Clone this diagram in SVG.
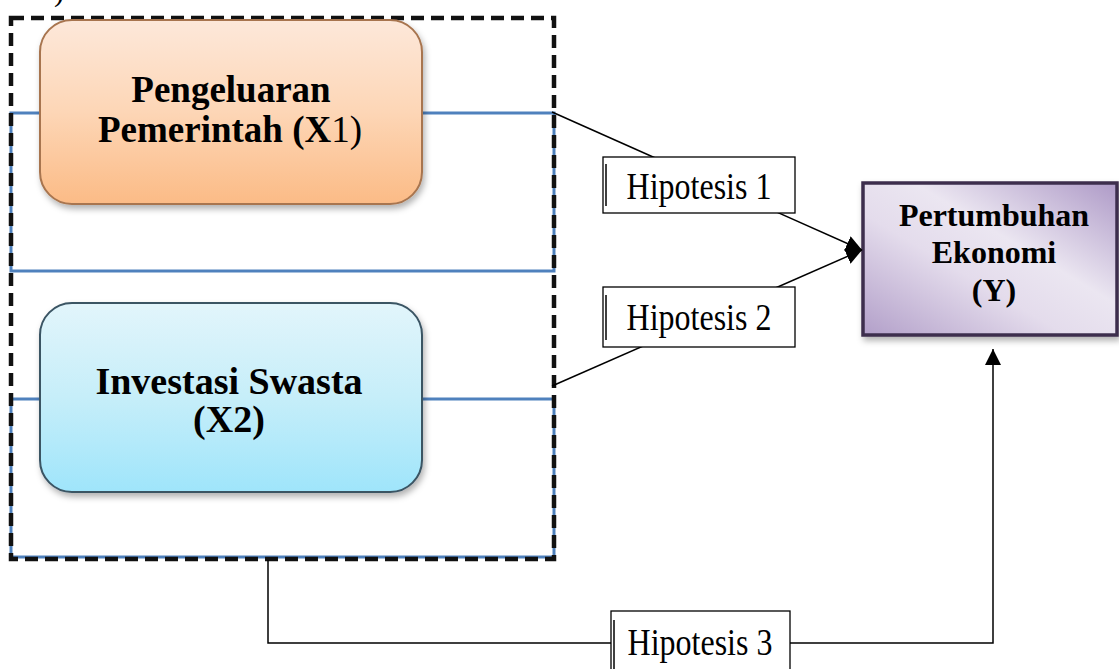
<svg xmlns="http://www.w3.org/2000/svg" width="1119" height="669" viewBox="0 0 1119 669">
<defs>
<linearGradient id="gOrange" x1="0" y1="0" x2="0" y2="1">
<stop offset="0" stop-color="#fde8da"/>
<stop offset="0.5" stop-color="#fdd6b6"/>
<stop offset="1" stop-color="#fbbb86"/>
</linearGradient>
<linearGradient id="gCyan" x1="0" y1="0" x2="0" y2="1">
<stop offset="0" stop-color="#e2f5fb"/>
<stop offset="0.5" stop-color="#c6eef9"/>
<stop offset="1" stop-color="#9fe5fb"/>
</linearGradient>
<linearGradient id="gPurple" x1="0" y1="1" x2="1" y2="0">
<stop offset="0" stop-color="#b29fc9"/>
<stop offset="0.4" stop-color="#e4dcec"/>
<stop offset="0.6" stop-color="#ebe6f1"/>
<stop offset="1" stop-color="#ae9ac7"/>
</linearGradient>
<filter id="shadow" x="-10%" y="-10%" width="125%" height="130%">
<feDropShadow dx="2" dy="4" stdDeviation="3" flood-color="#000" flood-opacity="0.3"/>
</filter>
<marker id="arrowBig" viewBox="0 0 10 10" refX="10" refY="5" markerWidth="16" markerHeight="16" markerUnits="userSpaceOnUse" orient="auto">
<path d="M0,0 L10,5 L0,10 z" fill="#000"/>
</marker>
</defs>
<style>
.bold{font-family:"Liberation Serif","Times New Roman",serif;font-weight:bold;fill:#000;}
.reg{font-family:"Liberation Serif","Times New Roman",serif;font-weight:normal;fill:#000;}
.hbox{fill:#fff;stroke:#000;stroke-width:1.3;}
.blue{fill:none;stroke:#4f81bd;stroke-width:3;}
.conn{fill:none;stroke:#000;stroke-width:1.5;}
.dash{fill:none;stroke:#111;stroke-width:4.5;stroke-dasharray:13 7;}
</style>

<text class="reg" x="54" y="1" font-size="30">)</text>

<g id="group-box">
<rect class="blue" x="11" y="113" width="543" height="158"/>
<rect class="blue" x="11" y="399" width="543" height="158"/>
<rect class="dash" x="11" y="18" width="543" height="541"/>
</g>

<g id="node-x1">
<rect x="40" y="20" width="382" height="184" rx="32" fill="url(#gOrange)" stroke="#a8754f" stroke-width="2" filter="url(#shadow)"/>
<text class="bold" x="231" y="102" font-size="37" text-anchor="middle">Pengeluaran</text>
<text x="230" y="142" font-size="37" text-anchor="middle"><tspan class="bold">Pemerintah (X</tspan><tspan class="reg">1)</tspan></text>
</g>

<g id="node-x2">
<rect x="40" y="303" width="382" height="189" rx="32" fill="url(#gCyan)" stroke="#3a5464" stroke-width="2" filter="url(#shadow)"/>
<text class="bold" x="229" y="394" font-size="38" text-anchor="middle">Investasi Swasta</text>
<text class="bold" x="229" y="432" font-size="38" text-anchor="middle">(X2)</text>
</g>

<g id="node-y">
<rect x="863" y="183" width="254" height="152" fill="url(#gPurple)" stroke="#3d2f4e" stroke-width="3.5" filter="url(#shadow)"/>
<text class="bold" x="994" y="226" font-size="32" text-anchor="middle">Pertumbuhan</text>
<text class="bold" x="994" y="263" font-size="32" text-anchor="middle">Ekonomi</text>
<text class="bold" x="994" y="301" font-size="32" text-anchor="middle">(Y)</text>
</g>

<g id="connectors">
<line class="conn" x1="552" y1="112" x2="862" y2="250" marker-end="url(#arrowBig)"/>
<line class="conn" x1="552" y1="386" x2="862" y2="250" marker-end="url(#arrowBig)"/>
<polyline class="conn" points="268,560 268,643 612,643"/>
<polyline class="conn" points="790,643 993,643 993,349" marker-end="url(#arrowBig)"/>
</g>

<g id="node-h1">
<rect class="hbox" x="603" y="157" width="192" height="56"/>
<line x1="606" y1="164" x2="606" y2="206" stroke="#000" stroke-width="1.5"/>
<text class="reg" font-size="32" text-anchor="middle" transform="translate(699,199) scale(1,1.2)">Hipotesis 1</text>
</g>

<g id="node-h2">
<rect class="hbox" x="603" y="287" width="192" height="60"/>
<line x1="606" y1="295" x2="606" y2="340" stroke="#000" stroke-width="1.5"/>
<text class="reg" font-size="32" text-anchor="middle" transform="translate(699,330) scale(1,1.2)">Hipotesis 2</text>
</g>

<g id="node-h3">
<rect class="hbox" x="611" y="611" width="179" height="62"/>
<line x1="614" y1="620" x2="614" y2="669" stroke="#000" stroke-width="1.5"/>
<text class="reg" font-size="32" text-anchor="middle" transform="translate(700,655) scale(1,1.2)">Hipotesis 3</text>
</g>
</svg>
